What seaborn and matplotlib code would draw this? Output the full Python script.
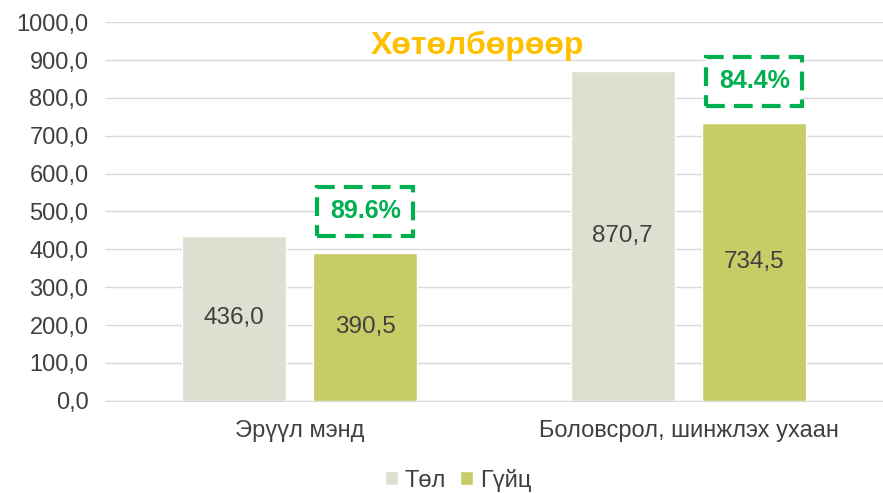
import matplotlib
matplotlib.use("Agg")
import matplotlib.pyplot as plt
import matplotlib.ticker as mticker
import seaborn as sns
import pandas as pd

categories = ["Эрүүл мэнд", "Боловсрол, шинжлэх ухаан"]
series = ["Төл", "Гүйц"]
tol_values = [436.0, 870.7]
guits_values = [390.5, 734.5]
percent_labels = ["89.6%", "84.4%"]
title = "Хөтөлбөрөөр"

COLORS = {"Төл": "#DEDFD0", "Гүйц": "#C8CC66"}
GREEN = "#00B050"
TEXT = "#404040"


def build_frame():
    rows = []
    for cat, t, g in zip(categories, tol_values, guits_values):
        rows.append({"cat": cat, "series": "Төл", "value": t})
        rows.append({"cat": cat, "series": "Гүйц", "value": g})
    return pd.DataFrame(rows)


def comma(v, pos=None):
    return f"{v:.1f}".replace(".", ",")


def main():
    sns.set_style("white")
    plt.rcParams["font.family"] = ["Liberation Sans", "DejaVu Sans"]

    df = build_frame()
    fig = plt.figure(figsize=(8.83, 4.93), dpi=100)
    ax = fig.add_axes([0.119, 0.187, 0.881, 0.768])

    sns.barplot(data=df, x="cat", y="value", hue="series", hue_order=series,
                palette=COLORS, width=0.677, gap=0.21, saturation=1,
                errorbar=None, ax=ax, zorder=3)

    for cont in ax.containers:
        ax.bar_label(cont, labels=[comma(b.get_height()) for b in cont],
                     label_type="center", fontsize=17.5, color=TEXT)

    # dashed percent boxes above the Гүйц bars
    for bar, lab in zip(ax.containers[1], percent_labels):
        x = bar.get_x() + bar.get_width() / 2
        y = bar.get_height() + 110
        ax.text(x, y, lab, ha="center", va="center", fontsize=18,
                fontweight="bold", color=GREEN, zorder=5,
                bbox=dict(boxstyle="square,pad=0.5", facecolor="white",
                          edgecolor=GREEN, linewidth=3, linestyle=(0, (4.5, 2.2))))

    ax.set_ylim(0, 1000)
    ax.set_xlim(-0.5, 1.5)
    ax.yaxis.set_major_locator(mticker.MultipleLocator(100))
    ax.yaxis.set_major_formatter(mticker.FuncFormatter(comma))
    ax.grid(axis="y", color="#D9D9D9", linewidth=1, zorder=0)
    ax.set_axisbelow(True)
    for s in ["top", "right", "left"]:
        ax.spines[s].set_visible(False)
    ax.spines["bottom"].set_color("#D9D9D9")
    ax.tick_params(axis="y", length=0, labelsize=17, labelcolor=TEXT, pad=12)
    ax.tick_params(axis="x", length=0, labelsize=17, labelcolor=TEXT, pad=14)
    ax.set_xlabel("")
    ax.set_ylabel("")

    fig.text(0.541, 0.908, title, ha="center", va="center", fontsize=23,
             fontweight="bold", color="#FFC000")

    handles, labels = ax.get_legend_handles_labels()
    ax.legend(handles, labels, loc="center", bbox_to_anchor=(0.519, 0.026),
              bbox_transform=fig.transFigure, ncol=2, frameon=False,
              fontsize=17, handlelength=0.55, handleheight=0.55,
              handletextpad=0.3, columnspacing=0.6, labelcolor=TEXT)

    fig.savefig("out.png", dpi=100)


if __name__ == "__main__":
    main()
